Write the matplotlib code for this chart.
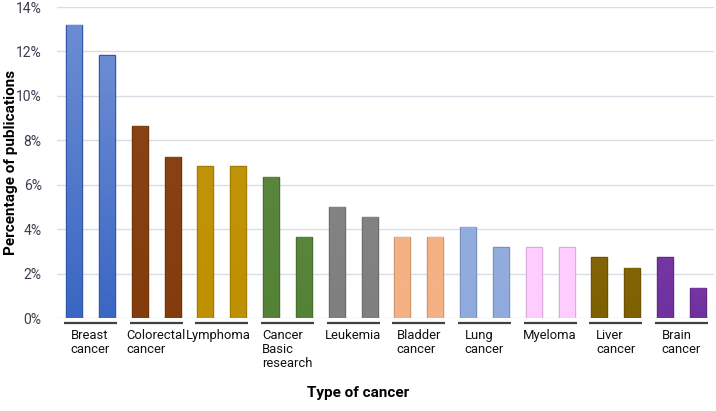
import matplotlib
matplotlib.use('Agg')
import matplotlib.pyplot as plt
import matplotlib.colors as mcolors
import numpy as np

plt.rcParams['font.family'] = ['Roboto', 'DejaVu Sans']

# two bars per cancer type
categories = ['Breast\ncancer', 'Colorectal\ncancer', 'Lymphoma', 'Cancer\nBasic\nresearch',
              'Leukemia', 'Bladder\ncancer', 'Lung\ncancer', 'Myeloma', 'Liver\ncancer',
              'Brain\ncancer']
values_a = [13.18, 8.64, 6.82, 6.36, 5.00, 3.64, 4.09, 3.18, 2.73, 2.73]
values_b = [11.82, 7.27, 6.82, 3.64, 4.55, 3.64, 3.18, 3.18, 2.27, 1.36]
colors = ['#3a66c4', '#843c0c', '#bf9000', '#548235', '#7f7f7f',
          '#f4b183', '#8faadc', '#ffccff', '#7f6000', '#7030a0']
# how much lighter the top of each bar is (only the blue has a visible gradient)
fade = [0.25, 0.03, 0.03, 0.03, 0.03, 0.0, 0.03, 0.0, 0.03, 0.03]
yticks = [0, 2, 4, 6, 8, 10, 12, 14]

fig = plt.figure(figsize=(7.16, 4.11), dpi=100)
ax = fig.add_axes([57 / 716, 1 - 318 / 411, 657 / 716, 311 / 411])

bw = 0.49
for i, cat in enumerate(categories):
    base = mcolors.to_rgb(colors[i])
    light = tuple(c + (1 - c) * fade[i] for c in base)
    edge = tuple(c * 0.85 for c in base)
    for j, v in enumerate([values_a[i], values_b[i]]):
        x = 2 * i + j
        bar = ax.bar(x, v, width=bw, color=base, edgecolor=edge, linewidth=1.0, zorder=2)[0]
        grad = np.linspace(0, 1, 64).reshape(-1, 1)
        cmap = mcolors.LinearSegmentedColormap.from_list('g', [light, base])
        im = ax.imshow(grad, cmap=cmap, aspect='auto', zorder=2.1,
                       extent=[x - bw / 2 + 0.03, x + bw / 2 - 0.03, 0, v - 0.03],
                       origin='upper')
        im.set_clip_path(bar)
    # group line + label below the axis
    cx = 2 * i + 0.5
    ax.plot([cx - 0.81, cx + 0.81], [-0.22, -0.22], color='#404040', lw=1.6,
            clip_on=False, solid_capstyle='butt')
    ax.text(cx - (0.12 if i == 2 else 0), -0.5, cat, ha='center', va='top',
            multialignment='left', fontsize=9.4, linespacing=1.08, color='#111111')

ax.set_xlim(-0.52, 19.49)
ax.set_ylim(0, 14)
ax.set_yticks(yticks)
ax.set_yticklabels([f'{t}%' for t in yticks], fontsize=10, color='#3c3c50')
ax.set_xticks([])
ax.tick_params(axis='y', length=0, pad=11)
ax.grid(axis='y', color='#d9dde6', lw=1.0, zorder=0)
ax.set_axisbelow(True)
for s in ax.spines.values():
    s.set_visible(False)

fig.text(11 / 716, 1 - 162 / 411, 'Percentage of publications', rotation=90,
         ha='center', va='center', fontsize=11, fontweight='bold')
fig.text(358 / 716, 1 - 393 / 411, 'Type of cancer', ha='center', va='center',
         fontsize=11, fontweight='bold')

fig.savefig('out.png', dpi=100)
